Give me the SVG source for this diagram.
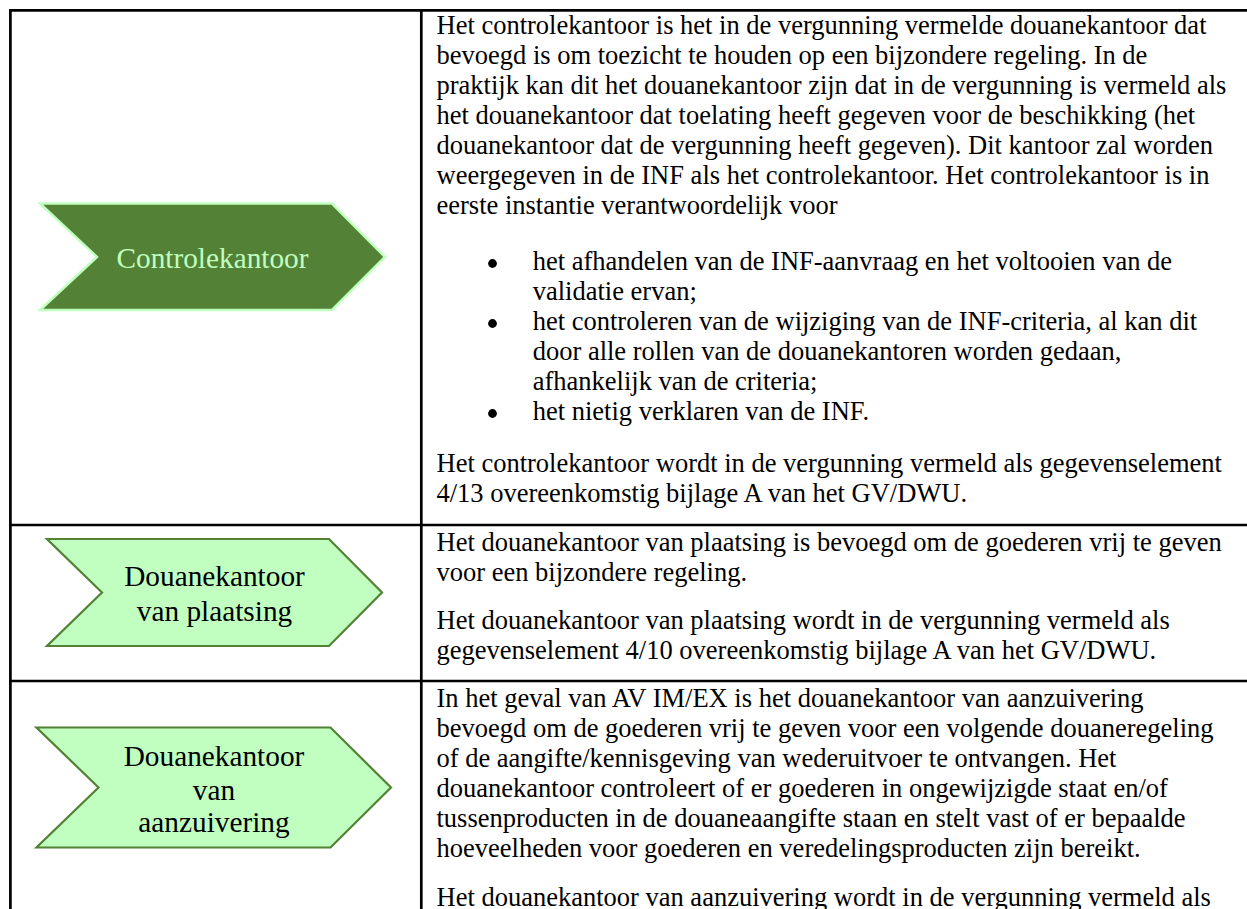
<svg xmlns="http://www.w3.org/2000/svg" width="1247" height="909" viewBox="0 0 1247 909">
<style>
.grid{stroke:#000;stroke-width:2.7;fill:none}
.body{font-family:"Liberation Serif","Times New Roman",serif;font-size:26.5px;fill:#000}
.lbl{font-family:"Liberation Serif","Times New Roman",serif;font-size:29.3px;text-anchor:middle}
.dark{fill:#538135;stroke:#C0FFC0;stroke-width:2.5}
.light{fill:#C0FFC0;stroke:#538135;stroke-width:2.2}
.dot{fill:#000}
</style>
<rect width="1247" height="909" fill="#fff"/>
<g id="table-grid" class="grid">
<line x1="10.4" y1="10.4" x2="1247" y2="10.4"/>
<line x1="10.4" y1="9" x2="10.4" y2="909"/>
<line x1="421.3" y1="10.4" x2="421.3" y2="909"/>
<line x1="9" y1="525" x2="1247" y2="525"/>
<line x1="9" y1="681" x2="1247" y2="681"/>
</g>
<g id="connectors"></g>
<g id="node-controlekantoor">
<polygon class="dark" points="40,203.5 332,203.5 385,257 332,310 40,310 97,257"/>
<text class="lbl" x="212.5" y="268" fill="#C0FFC0">Controlekantoor</text>
</g>
<g id="node-plaatsing">
<polygon class="light" points="47,539 329,539 382,592.5 329,646 47,646 102,592.5"/>
<text class="lbl" x="214.5" y="586" fill="#000">Douanekantoor</text>
<text class="lbl" x="214.5" y="620.5" fill="#000">van plaatsing</text>
</g>
<g id="node-aanzuivering">
<polygon class="light" points="36.5,727.5 330.5,727.5 391,787.5 330.5,847.5 36.5,847.5 98.5,787.5"/>
<text class="lbl" x="214" y="766" fill="#000">Douanekantoor</text>
<text class="lbl" x="214" y="799.5" fill="#000">van</text>
<text class="lbl" x="214" y="832" fill="#000">aanzuivering</text>
</g>
<g id="desc-controlekantoor" class="body">
<text x="436.5" y="33.5">Het controlekantoor is het in de vergunning vermelde douanekantoor dat</text>
<text x="436.5" y="63.5">bevoegd is om toezicht te houden op een bijzondere regeling. In de</text>
<text x="436.5" y="93.5">praktijk kan dit het douanekantoor zijn dat in de vergunning is vermeld als</text>
<text x="436.5" y="123.5">het douanekantoor dat toelating heeft gegeven voor de beschikking (het</text>
<text x="436.5" y="153.5">douanekantoor dat de vergunning heeft gegeven). Dit kantoor zal worden</text>
<text x="436.5" y="183.5">weergegeven in de INF als het controlekantoor. Het controlekantoor is in</text>
<text x="436.5" y="213.5">eerste instantie verantwoordelijk voor</text>
<circle class="dot" cx="492.5" cy="263.5" r="4.4"/>
<text x="532.7" y="270">het afhandelen van de INF-aanvraag en het voltooien van de</text>
<text x="532.7" y="300">validatie ervan;</text>
<circle class="dot" cx="492.5" cy="323.5" r="4.4"/>
<text x="532.7" y="330">het controleren van de wijziging van de INF-criteria, al kan dit</text>
<text x="532.7" y="360">door alle rollen van de douanekantoren worden gedaan,</text>
<text x="532.7" y="390">afhankelijk van de criteria;</text>
<circle class="dot" cx="492.5" cy="413.5" r="4.4"/>
<text x="532.7" y="420">het nietig verklaren van de INF.</text>
<text x="436.5" y="471.5">Het controlekantoor wordt in de vergunning vermeld als gegevenselement</text>
<text x="436.5" y="501.5">4/13 overeenkomstig bijlage A van het GV/DWU.</text>
</g>
<g id="desc-plaatsing" class="body">
<text x="436.5" y="551">Het douanekantoor van plaatsing is bevoegd om de goederen vrij te geven</text>
<text x="436.5" y="581">voor een bijzondere regeling.</text>
<text x="436.5" y="629">Het douanekantoor van plaatsing wordt in de vergunning vermeld als</text>
<text x="436.5" y="659">gegevenselement 4/10 overeenkomstig bijlage A van het GV/DWU.</text>
</g>
<g id="desc-aanzuivering" class="body">
<text x="436.5" y="706.5">In het geval van AV IM/EX is het douanekantoor van aanzuivering</text>
<text x="436.5" y="736.5">bevoegd om de goederen vrij te geven voor een volgende douaneregeling</text>
<text x="436.5" y="766.5">of de aangifte/kennisgeving van wederuitvoer te ontvangen. Het</text>
<text x="436.5" y="796.5">douanekantoor controleert of er goederen in ongewijzigde staat en/of</text>
<text x="436.5" y="826.5">tussenproducten in de douaneaangifte staan en stelt vast of er bepaalde</text>
<text x="436.5" y="856.5">hoeveelheden voor goederen en veredelingsproducten zijn bereikt.</text>
<text x="436.5" y="906">Het douanekantoor van aanzuivering wordt in de vergunning vermeld als</text>
</g>
</svg>
